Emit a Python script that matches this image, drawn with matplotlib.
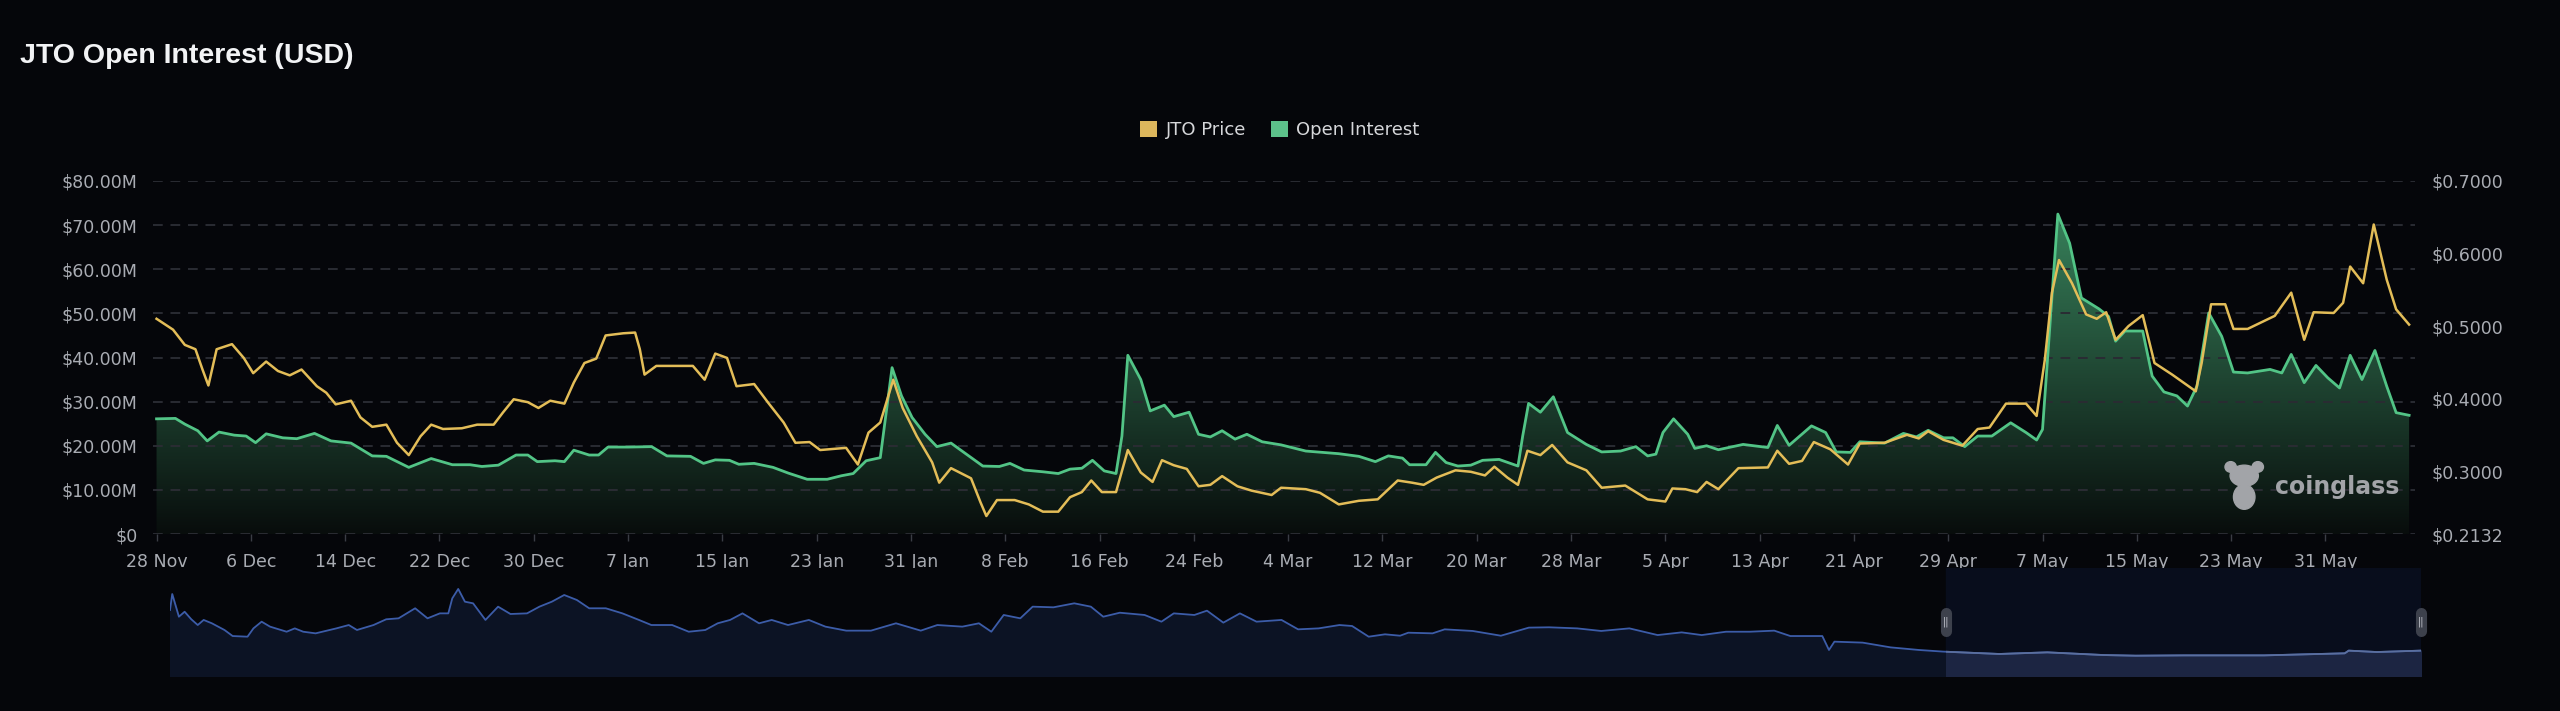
import datetime as dt
import numpy as np
import matplotlib
matplotlib.use("Agg")
import matplotlib.pyplot as plt
import matplotlib.transforms as mtransforms
from matplotlib.patches import Patch, Ellipse, Rectangle
from matplotlib.colors import to_rgb

# ---- data (days since 28 Nov) ----
start_date = dt.date(2024, 11, 28)
tick_days = list(range(0, 185, 8))

oi_days = [0, 1.6, 2.4, 3.5, 4.3, 5.3, 6.6, 7.6, 8.4, 9.3, 10.7, 11.9, 13.4, 14.8, 16.5,
           18.3, 19.5, 21.4, 23.3, 25.1, 26.6, 27.6, 29.0, 30.5, 31.5, 32.3, 33.8, 34.6,
           35.4, 36.7, 37.5, 38.3, 40.0, 42.0, 43.3, 45.3, 46.4, 47.4, 48.6, 49.4, 50.7,
           52.3, 53.6, 55.2, 56.9, 58.1, 59.1, 60.2, 61.4, 62.4, 63.2, 64.1, 65.2, 66.2,
           67.4, 68.7, 70.1, 71.5, 72.4, 73.6, 75.2, 76.5, 77.5, 78.5, 79.4, 80.4, 81.4,
           81.9, 82.4, 83.5, 84.3, 85.5, 86.3, 87.6, 88.4, 89.4, 90.4, 91.5, 92.5, 93.8,
           95.4, 97.5, 100.3, 102.0, 103.4, 104.5, 105.7, 106.3, 107.7, 108.5, 109.4,
           110.4, 111.5, 112.5, 113.9, 115.5, 115.9, 116.4, 117.4, 118.5, 119.7, 121.3,
           122.6, 124.2, 125.5, 126.5, 127.2, 127.8, 128.7, 129.9, 130.5, 131.5, 132.5,
           134.6, 136.7, 137.5, 138.5, 140.4, 141.6, 142.5, 143.7, 144.5, 146.6, 148.2,
           149.3, 150.3, 151.6, 152.4, 153.4, 154.5, 155.7, 157.3, 158.6, 159.5, 160.0,
           160.6, 161.3, 162.3, 163.3, 164.8, 165.6, 166.2, 167.0, 168.5, 169.3, 170.3,
           171.4, 172.3, 173.1, 174.1, 175.2, 176.2, 177.4, 179.3, 180.3, 181.1, 182.2,
           183.2, 184.2, 185.2, 186.1, 187.1, 188.2, 189.2, 190.0, 191.1]
oi_musd = [26.1, 26.2, 24.9, 23.4, 21.1, 23.1, 22.4, 22.2, 20.7, 22.7, 21.8, 21.6, 22.8, 21.1, 20.6,
           17.7, 17.6, 15.1, 17.1, 15.7, 15.7, 15.3, 15.6, 17.9, 17.9, 16.4, 16.6, 16.4,
           19.0, 17.9, 17.9, 19.7, 19.7, 19.8, 17.7, 17.6, 16.0, 16.8, 16.7, 15.8, 16.0,
           15.1, 13.8, 12.4, 12.4, 13.2, 13.7, 16.6, 17.3, 37.7, 31.3, 26.4, 22.6, 19.8,
           20.6, 18.1, 15.4, 15.3, 16.0, 14.5, 14.1, 13.7, 14.7, 14.9, 16.7, 14.3, 13.7,
           22.2, 40.5, 35.0, 27.9, 29.2, 26.6, 27.6, 22.6, 22.0, 23.4, 21.5, 22.6, 20.9,
           20.2, 18.8, 18.2, 17.6, 16.4, 17.7, 17.2, 15.7, 15.7, 18.5, 16.2,
           15.4, 15.6, 16.7, 16.9, 15.4, 22.2, 29.6, 27.6, 31.1, 23.0, 20.3,
           18.6, 18.8, 19.8, 17.7, 18.1, 23.0, 26.1, 22.6, 19.4, 20.0, 19.1,
           20.3, 19.6, 24.6, 20.1, 24.5, 23.0, 18.6, 18.5, 20.9, 20.6, 22.8,
           22.0, 23.5, 21.8, 21.8, 19.8, 22.2, 22.2, 25.2, 23.0, 21.3, 23.7,
           46.3, 72.5, 65.9, 53.5, 51.0, 49.3, 43.7, 46.0, 46.0, 35.8, 32.2,
           31.3, 29.0, 33.5, 50.1, 44.8, 36.7, 36.5, 37.3, 36.5, 40.7, 34.3,
           38.2, 35.4, 33.1, 40.5, 35.0, 41.6, 33.5, 27.5, 26.9]

price_days = [0, 1.4, 2.4, 3.3, 3.9, 4.4, 5.1, 6.4, 7.4, 8.2, 9.3, 10.3, 11.3, 12.3, 13.6, 14.4,
              15.2, 16.5, 17.3, 18.3, 19.5, 20.4, 21.4, 22.4, 23.3, 24.3, 25.9, 27.2, 28.6,
              29.4, 30.3, 31.5, 32.4, 33.4, 34.6, 35.4, 36.3, 37.3, 38.1, 39.6, 40.6, 41.0,
              41.4, 42.4, 44.1, 45.5, 46.5, 47.4, 48.4, 49.2, 50.7, 51.9, 53.2, 54.2, 55.4,
              56.3, 58.5, 59.5, 60.4, 61.4, 62.5, 63.3, 64.5, 65.8, 66.4, 67.4, 69.1, 69.9,
              70.4, 71.3, 72.8, 74.0, 75.2, 76.5, 77.5, 78.5, 79.3, 80.2, 81.4, 82.4, 83.5,
              84.5, 85.3, 86.3, 87.4, 88.4, 89.4, 90.4, 91.7, 92.9, 94.6, 95.4, 97.5, 98.7,
              100.3, 102.0, 103.6, 105.3, 106.5, 107.5, 108.6, 110.2, 111.5, 112.7, 113.5,
              114.6, 115.5, 116.3, 117.4, 118.4, 119.7, 121.3, 122.6, 124.6, 126.5, 128.0,
              128.6, 129.7, 130.7, 131.5, 132.5, 134.2, 136.7, 137.5, 138.5, 139.6, 140.6,
              142.0, 143.5, 144.5, 146.6, 148.5, 149.5, 150.3, 151.6, 153.2, 154.5, 155.5,
              156.9, 158.6, 159.5, 160.2, 160.8, 161.4, 162.5, 163.7, 164.6, 165.4, 166.2,
              167.3, 168.5, 169.5, 171.0, 173.0, 173.5, 174.3, 175.5, 176.2, 177.4, 179.7,
              181.1, 182.2, 183.0, 184.7, 185.5, 186.1, 187.2, 188.1, 189.2, 190.0, 191.1]
price_usd = [0.510, 0.495, 0.474, 0.468, 0.440, 0.418, 0.468, 0.475, 0.456, 0.435, 0.451, 0.438,
             0.432, 0.440, 0.417, 0.408, 0.392, 0.397, 0.374, 0.361, 0.364, 0.339, 0.322, 0.348,
             0.364, 0.358, 0.359, 0.364, 0.364, 0.381, 0.399, 0.395, 0.387, 0.397, 0.393, 0.422,
             0.449, 0.455, 0.487, 0.490, 0.491, 0.468, 0.433, 0.445, 0.445, 0.445, 0.426, 0.462,
             0.456, 0.417, 0.420, 0.394, 0.367, 0.339, 0.340, 0.329, 0.332, 0.309, 0.353, 0.367,
             0.426, 0.387, 0.348, 0.312, 0.284, 0.304, 0.290, 0.257, 0.238, 0.260, 0.260, 0.254,
             0.244, 0.244, 0.264, 0.271, 0.287, 0.271, 0.271, 0.329, 0.298, 0.285, 0.315, 0.308,
             0.303, 0.279, 0.281, 0.293, 0.279, 0.273, 0.267, 0.277, 0.275, 0.270, 0.254, 0.259,
             0.261, 0.287, 0.284, 0.281, 0.291, 0.301, 0.299, 0.294, 0.306, 0.291, 0.281, 0.328,
             0.322, 0.336, 0.312, 0.301, 0.277, 0.280, 0.261, 0.258, 0.276, 0.275, 0.271, 0.285,
             0.275, 0.304, 0.305, 0.328, 0.310, 0.314, 0.340, 0.330, 0.309, 0.338, 0.339, 0.350,
             0.345, 0.355, 0.343, 0.335, 0.358, 0.360, 0.393, 0.393, 0.376, 0.454, 0.546, 0.591,
             0.559, 0.516, 0.510, 0.519, 0.481, 0.500, 0.515, 0.449, 0.433, 0.410, 0.449, 0.530,
             0.530, 0.496, 0.496, 0.514, 0.546, 0.481, 0.519, 0.518, 0.532, 0.582, 0.559, 0.640,
             0.564, 0.523, 0.502]

price_ticks = [0.2132, 0.3, 0.4, 0.5, 0.6, 0.7]

# navigator overview (days of full history, relative level 0-100)
nav_days = [0, 0.9, 3.6, 5.9, 8.6, 11.2, 13.6, 16.9, 22.0, 25.3, 31.3, 33.7, 37.0, 40.4, 47.1,
            50.4, 53.8, 58.8, 67.2, 72.2, 75.5, 82.2, 87.3, 92.3, 99.0, 104.0, 109.0, 112.4,
            114.0, 116.4, 119.1, 122.4, 127.4, 132.5, 137.5, 144.2, 149.2, 154.2, 159.2,
            164.3, 169.3, 176.0, 182.7, 189.4, 194.4, 202.8, 209.5, 216.2, 221.2, 226.2,
            231.2, 237.9, 243.0, 249.6, 258.0, 264.7, 273.1, 283.1, 293.2, 303.2, 309.9,
            320.0, 326.7, 331.7, 336.7, 343.4, 348.4, 356.8, 365.2, 371.9, 376.9, 383.6,
            393.6, 400.4, 405.4, 413.7, 418.8, 425.4, 432.1, 438.8, 448.9, 455.6, 463.9,
            472.3, 477.4, 484.1, 490.7, 496.8, 500.1, 509.9, 514.8, 526.1, 537.5, 548.8,
            557.0, 568.3, 578.0, 589.4, 600.8, 610.5, 618.6, 628.4, 638.1, 647.9, 654.4,
            667.3, 670.0, 672.2, 683.6, 694.9, 706.3, 716.0, 738.8, 758.2, 781.0, 793.9,
            813.4, 845.8, 878.3, 879.9, 891.3, 909.1]
nav_level = [61.1, 75.9, 54.9, 59.5, 52.5, 47.2, 51.9, 48.8, 42.6, 37.0, 36.4, 44.1, 50.3, 45.7,
             41.0, 44.1, 41.0, 39.5, 44.1, 47.2, 42.6, 47.2, 52.5, 53.4, 62.7, 53.4, 58.0, 58.0,
             71.9, 80.6, 68.8, 67.3, 51.9, 64.2, 57.4, 58.0, 64.2, 68.8, 75.0, 70.4, 62.7, 62.7,
             58.0, 51.9, 47.2, 47.2, 41.0, 42.6, 48.8, 51.9, 58.0, 48.8, 51.9, 47.2, 51.9, 45.7,
             42.0, 42.0, 48.8, 42.0, 47.2, 45.7, 48.8, 41.0, 56.5, 53.4, 64.2, 63.6, 67.3, 64.2,
             54.9, 58.6, 56.5, 50.3, 58.0, 56.5, 60.5, 49.4, 58.0, 50.3, 51.9, 43.2, 44.1, 47.2,
             46.3, 36.4, 38.6, 37.3, 40.1, 39.5, 43.2, 41.7, 37.3, 44.8, 45.1, 44.1, 41.7, 44.1,
             37.9, 40.4, 37.9, 41.0, 41.0, 42.0, 37.0, 37.0, 24.1, 31.8, 30.9, 26.5, 24.1, 22.6,
             20.4, 21.9, 19.4, 18.8, 19.1, 19.1, 21.0, 23.5, 22.2, 23.5]

# ---- style ----
BG = "#05060a"
GREEN = "#52c486"
YELLOW = "#e3bd58"
GRID = "#2a2c33"
LABEL = "#a9acb3"
LOGO = "#a2a4a8"

W, H = 2560, 711
fig = plt.figure(figsize=(W / 100, H / 100), dpi=100, facecolor=BG)

def frac(x0, y0, x1, y1):
    return [x0 / W, 1 - y1 / H, (x1 - x0) / W, (y1 - y0) / H]

ax = fig.add_axes(frac(153, 181, 2415, 534))
ax.set_facecolor(BG)
ax2 = ax.twinx()

xmin, xmax = -0.3, 191.6
oi = np.array(oi_musd) * 1e6

# gradient fill under open interest
poly = ax.fill_between(oi_days, 0, oi, facecolor="none", edgecolor="none")
top_c = np.array(to_rgb("#37805a"))
bot_c = np.array(to_rgb("#080d0c"))
t = np.linspace(0, 1, 256)[:, None]
grad = (bot_c * (1 - t) + top_c * t)[:, None, :]
img = ax.imshow(grad, extent=[xmin, xmax, 0, oi.max()], origin="lower",
                aspect="auto", zorder=1)
img.set_clip_path(poly.get_paths()[0], transform=ax.transData)
ax.plot(oi_days, oi, color=GREEN, lw=2.0, zorder=3, solid_joinstyle="round")

ax.set_xlim(xmin, xmax)
ax.set_ylim(0, 80e6)
ax.set_yticks(np.arange(0, 80e6 + 1, 10e6))
ax.set_yticklabels(["$0"] + [f"${v:.2f}M" for v in np.arange(10, 81, 10)])
ax.set_axisbelow("line")
ax.yaxis.grid(True, color=GRID, lw=1.4, ls=(0, (5, 4)))
ax.set_xticks(tick_days)
ax.set_xticklabels([f"{d.day} {d:%b}" for d in
                    (start_date + dt.timedelta(days=k) for k in tick_days)])
ax.tick_params(axis="y", length=0, pad=11, labelsize=12.5, labelcolor=LABEL)
ax.tick_params(axis="x", length=5, width=1, color="#3a3d45", pad=9,
               labelsize=12.5, labelcolor=LABEL)
for s in ax.spines.values():
    s.set_visible(False)

ax2.plot(price_days, price_usd, color=YELLOW, lw=1.8, zorder=4, solid_joinstyle="round")
ax2.set_ylim(price_ticks[0], 0.7)
ax2.set_yticks(price_ticks)
ax2.set_yticklabels([f"${v:.4f}" for v in price_ticks])
ax2.tick_params(axis="y", length=0, pad=12, labelsize=12.5, labelcolor=LABEL)
for s in ax2.spines.values():
    s.set_visible(False)

# watermark
ax2.text(0.993, 0.112, "coinglass", transform=ax2.transAxes, ha="right", va="baseline",
         fontsize=17, fontweight="bold", color=LOGO, zorder=5)
for (cx, cy, w, h) in [(0.9245, 0.105, 0.0095, 0.07), (0.9245, 0.165, 0.0125, 0.06),
                       (0.9185, 0.19, 0.005, 0.03), (0.9305, 0.19, 0.005, 0.03)]:
    ax2.add_patch(Ellipse((cx, cy), w, h, transform=ax2.transAxes, color=LOGO, zorder=5))

# title and legend
fig.text(20 / W, 1 - 63 / H, "JTO Open Interest (USD)", fontsize=20.5, fontweight="bold",
         family="Liberation Sans", color="#f2f3f5", va="baseline")
handles = [Patch(facecolor="#dcb65c", label="JTO Price"),
           Patch(facecolor="#5cc18a", label="Open Interest")]
fig.legend(handles=handles, loc="center", bbox_to_anchor=(0.5, 1 - 130 / H), ncol=2,
           frameon=False, fontsize=13, labelcolor="#d6d7da", handlelength=0.95,
           handleheight=0.95, handletextpad=0.45, columnspacing=1.4)

# navigator
nav = fig.add_axes(frac(170, 568, 2421, 676))
nav.set_facecolor(BG)
nav.set_xlim(nav_days[0], nav_days[-1])
nav.set_ylim(0, 100)
sel0 = nav_days[-1] - (xmax - xmin)
blend = mtransforms.blended_transform_factory(nav.transData, nav.transAxes)
nav.axvspan(sel0, nav_days[-1], color="#080d1c", zorder=0)
nav.fill_between(nav_days, 0, nav_level, color="#0c1324", zorder=1)
sel_fill = nav.fill_between(nav_days, 0, nav_level, color="#1c2542", zorder=2)
sel_line, = nav.plot(nav_days, nav_level, color="#5b6f9e", lw=1.3, zorder=4)
clip = Rectangle((sel0, 0), nav_days[-1] - sel0, 1, transform=blend,
                 facecolor="none", edgecolor="none")
nav.add_patch(clip)
sel_fill.set_clip_path(clip)
sel_line.set_clip_path(clip)
nav.plot(nav_days, nav_level, color="#3c5ca8", lw=1.3, zorder=3)
for hx in (sel0, nav_days[-1]):
    nav.plot([hx, hx], [0.42, 0.58], transform=blend, color="#3d414c", lw=8,
             solid_capstyle="round", zorder=5, clip_on=False)
    nav.text(hx, 0.5, "||", transform=blend, ha="center", va="center", fontsize=7,
             color="#c9ccd4", zorder=6, clip_on=False)
nav.set_xticks([])
nav.set_yticks([])
for s in nav.spines.values():
    s.set_visible(False)

fig.savefig("out.png", dpi=100, facecolor=BG)
